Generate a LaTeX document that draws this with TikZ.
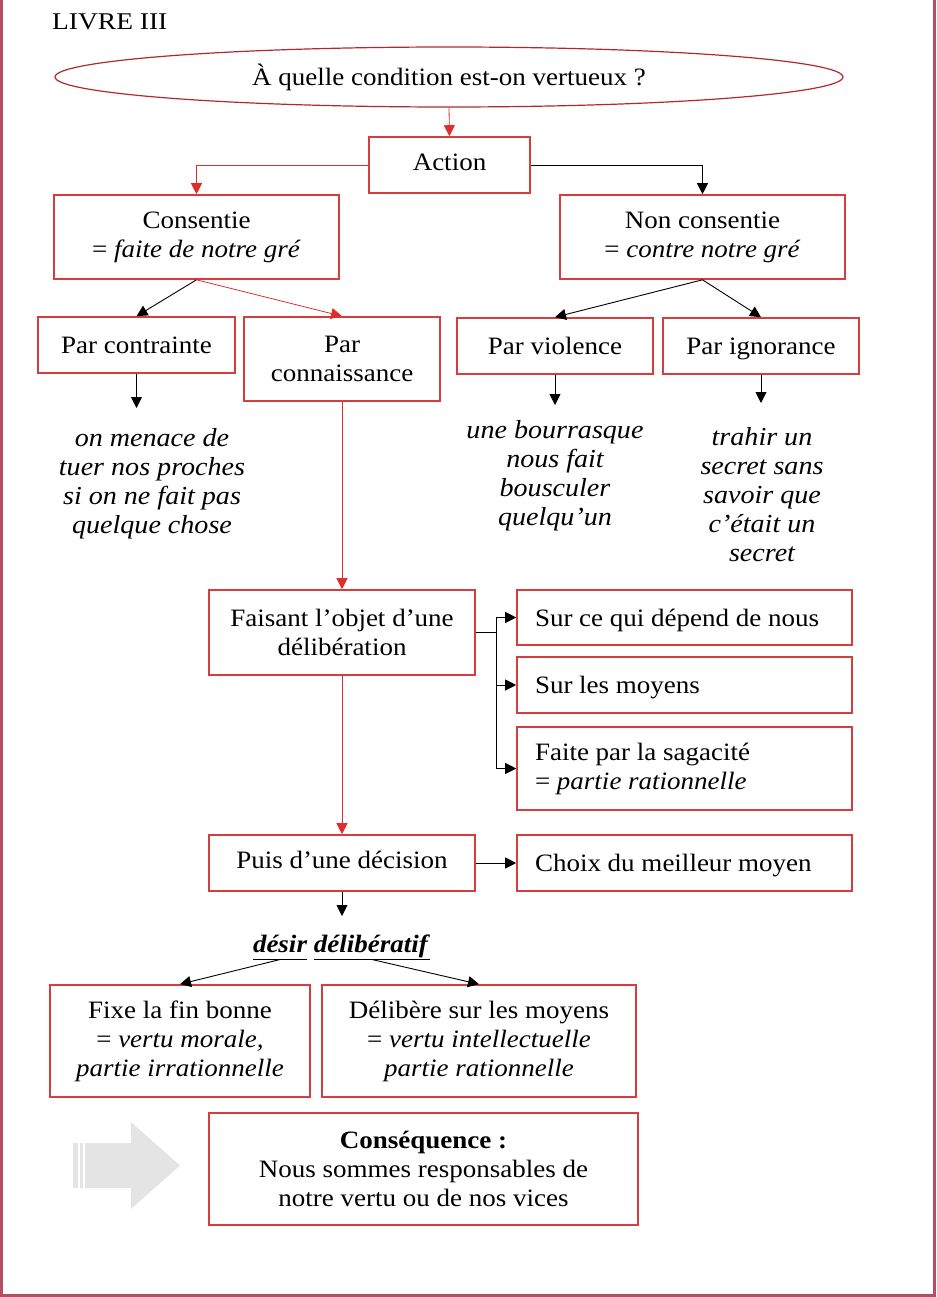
\documentclass[tikz,border=0pt]{standalone}
\usepackage{fontspec}
\setmainfont[FakeStretch=1.08]{Liberation Serif}
\usetikzlibrary{shapes.geometric,arrows.meta}
\definecolor{boxred}{RGB}{214,62,62}
\definecolor{arrred}{RGB}{222,45,45}
\definecolor{ellred}{RGB}{180,40,45}
\definecolor{framecol}{RGB}{180,78,102}
\definecolor{arrgrey}{RGB}{228,228,228}
\newcommand\boxfont{\fontsize{25}{29}\selectfont}
\newcommand\exfont{\fontsize{26}{29}\selectfont\itshape}
\newcommand\lowstrut{\rule[-6pt]{0pt}{29pt}}
\begin{document}
\begin{tikzpicture}[x=1pt,y=-1pt,
  box/.style={draw=boxred, line width=1.6pt, fill=white, inner sep=0pt, align=center, font=\boxfont},
  rbox/.style={box, align=flush left, text width=299pt, inner xsep=18pt},
  blk/.style={draw=black, line width=0.9pt, -{Triangle[length=11pt,width=11pt]}},
  redarr/.style={draw=arrred, line width=0.8pt, -{Triangle[length=11pt,width=11pt]}},
  extext/.style={align=center, inner sep=0pt, font=\exfont, anchor=north}]
\useasboundingbox (0,0) rectangle (936,1297);
% frame
\draw[framecol, line width=3pt] (1.5,-5) -- (1.5,1295.5) -- (934.5,1295.5) -- (934.5,-5);
% title
\node[anchor=west, inner sep=0pt, font=\fontsize{24}{28}\selectfont] (title) at (52,22) {\scalebox{1.06}[1]{LIVRE III}};
% question
\node[ellipse, draw=ellred, line width=1.2pt, minimum width=788pt, minimum height=60pt, inner sep=0pt, font=\boxfont] (q) at (449,77) {À quelle condition est-on vertueux ?};
% boxes
\node[box, minimum width=161pt, minimum height=56pt] (action) at (449.5,165) {\strut Action};
\node[box, minimum width=285pt, minimum height=84pt] (cons) at (196.5,237) {Consentie\\= \textit{faite de notre gré}};
\node[box, minimum width=285pt, minimum height=84pt] (noncons) at (702.5,237) {Non consentie\\= \textit{contre notre gré}};
\node[box, minimum width=197pt, minimum height=56pt] (contr) at (136.5,345) {\lowstrut Par contrainte};
\node[box, minimum width=196pt, minimum height=84pt] (conn) at (342,359) {Par\\connaissance};
\node[box, minimum width=196pt, minimum height=56pt] (viol) at (555,346) {\lowstrut Par violence};
\node[box, minimum width=196pt, minimum height=56pt] (ign) at (761,346) {\lowstrut Par ignorance};
\node[box, minimum width=266pt, minimum height=85pt] (fais) at (342,632.5) {Faisant l’objet d’une\\délibération};
\node[rbox, minimum height=55pt] (dep) at (684.5,617.5) {\lowstrut Sur ce qui dépend de nous};
\node[rbox, minimum height=56pt] (moy) at (684.5,685) {\lowstrut Sur les moyens};
\node[rbox, minimum height=83pt] (sag) at (684.5,768.5) {Faite par la sagacité\\= \textit{partie rationnelle}};
\node[box, minimum width=266pt, minimum height=56pt] (puis) at (342,863) {\strut Puis d’une décision};
\node[rbox, minimum height=56pt] (choix) at (684.5,863) {\lowstrut Choix du meilleur moyen};
\node[box, minimum width=260pt, minimum height=112pt] (fixe) at (180,1041) {Fixe la fin bonne\\= \textit{vertu morale,}\\\textit{partie irrationnelle}};
\node[box, minimum width=314pt, minimum height=112pt] (delib) at (479,1041) {Délibère sur les moyens\\= \textit{vertu intellectuelle}\\\textit{partie rationnelle}};
\node[box, minimum width=429pt, minimum height=112pt] (cq) at (423.5,1169) {\textbf{Conséquence :}\\Nous sommes responsables de\\notre vertu ou de nos vices};
% examples
\node[extext] (ex1) at (152,428) {on menace de\\tuer nos proches\\si on ne fait pas\\quelque chose};
\node[extext] (ex2) at (555,420) {une bourrasque\\nous fait\\bousculer\\quelqu’un};
\node[extext] (ex3) at (762,427) {trahir un\\secret sans\\savoir que\\c’était un\\secret};
% désir délibératif
\node[inner sep=0pt, font=\boxfont, anchor=base] (w1) at (280,952) {\underline{\textbf{\textit{désir\vphantom{fé}}}}};
\node[inner sep=0pt, font=\boxfont, anchor=base] (w2) at (372,952) {\underline{\textbf{\textit{délibératif}}}};
% free ends
\coordinate (e1) at (136.5,408);
\coordinate (e2) at (555,405);
\coordinate (e3) at (761,403);
\coordinate (e4) at (342,916);
% connectors
\draw[redarr] (q.south) -- (action.north);
\draw[redarr] (action.west) -| (cons.north);
\draw[blk] (action.east) -| (noncons.north);
\draw[blk] (cons.south) -- (contr.north);
\draw[redarr] (cons.south) -- (conn.north);
\draw[blk] (noncons.south) -- (viol.north);
\draw[blk] (noncons.south) -- (ign.north);
\draw[blk] (contr.south) -- (e1);
\draw[blk] (viol.south) -- (e2);
\draw[blk] (ign.south) -- (e3);
\draw[redarr] (conn.south) -- (fais.north);
\draw[blk] (fais.east) -- ++(21,0) |- (dep.west);
\draw[blk] (fais.east) -- ++(21,0) |- (moy.west);
\draw[blk] (fais.east) -- ++(21,0) |- (sag.west);
\draw[redarr] (fais.south) -- (puis.north);
\draw[blk] (puis.east) -- (choix.west);
\draw[blk] (puis.south) -- (e4);
\draw[blk] (w1.south) -- (fixe.north);
\draw[blk] (w2.south) -- (delib.north);
% grey arrow
\fill[arrgrey] (73,1143) -- (131,1143) -- (131,1122) -- (180,1165.5) -- (131,1209) -- (131,1188) -- (73,1188) -- cycle;
\draw[white, line width=1.2pt] (79,1143) -- (79,1188) (84,1143) -- (84,1188);
\end{tikzpicture}
\end{document}
